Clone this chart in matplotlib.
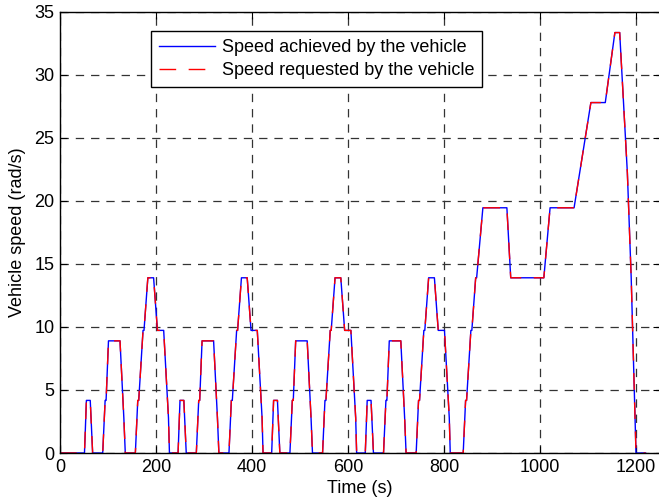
import numpy as np
import matplotlib
matplotlib.use('Agg')
import matplotlib.pyplot as plt

# NEDC breakpoints: urban cycle (ECE-15), time from cycle start (s) and speed
ece_t = [0, 11, 15, 23, 28, 49, 54, 56, 61, 85, 93, 96, 117, 122, 124, 133,
         135, 143, 155, 163, 176, 186, 188, 195]
ece_v = [0, 0, 4.17, 4.17, 0, 0, 4.17, 4.17, 8.89, 8.89, 2.78, 0, 0, 4.17,
         4.17, 9.72, 9.72, 13.89, 13.89, 9.72, 9.72, 2.78, 0, 0]
ece_starts = [40, 235, 430, 625]

# extra-urban part (EUDC)
eudc_start = 820
eudc_t = [0, 20, 25, 27, 36, 38, 46, 48, 61, 111, 119, 188, 201, 251, 286,
          316, 336, 346, 362, 370, 380, 400]
eudc_v = [0, 0, 4.17, 4.17, 9.72, 9.72, 13.89, 13.89, 19.44, 19.44, 13.89,
          13.89, 19.44, 19.44, 27.78, 27.78, 33.33, 33.33, 22.22, 13.89, 0, 0]

x_ticks = [0, 200, 400, 600, 800, 1000, 1200]
y_ticks = [0, 5, 10, 15, 20, 25, 30, 35]


def build_profile():
    t = [0]
    v = [0]
    for s in ece_starts:
        t += [s + x for x in ece_t]
        v += list(ece_v)
    t += [eudc_start + x for x in eudc_t]
    v += list(eudc_v)
    return np.array(t), np.array(v)


time, requested = build_profile()
achieved = requested.copy()

plt.rcParams['font.family'] = ['Liberation Sans', 'DejaVu Sans']
plt.rcParams['lines.scale_dashes'] = False

fig = plt.figure(figsize=(6.59, 5.01), dpi=100)
ax = fig.add_axes([60 / 659, 48 / 501, 600 / 659, 441.5 / 501])

ax.plot(time, achieved, color='#0000ff', lw=1.0,
        label='Speed achieved by the vehicle')
ax.plot(time, requested, color='#ff0000', lw=1.0, linestyle=(0, (12, 9)),
        label='Speed requested by the vehicle')

ax.set_xlim(0, 1250)
ax.set_ylim(0, 35)
ax.set_xticks(x_ticks)
ax.set_yticks(y_ticks)
ax.tick_params(direction='in', length=5, width=0.8, labelsize=13,
               top=True, right=True, pad=4)
ax.grid(True, color='#333333', linestyle=(0, (6, 5)), lw=0.9)
for sp in ax.spines.values():
    sp.set_linewidth(1.0)

ax.set_xlabel('Time (s)', fontsize=13, labelpad=3)
ax.set_ylabel('Vehicle speed (rad/s)', fontsize=13, labelpad=6)

leg = ax.legend(loc='upper left', bbox_to_anchor=(0.152, 0.956),
                borderaxespad=0, fontsize=13, fancybox=False,
                edgecolor='black', framealpha=1, handlelength=3.1,
                handletextpad=0.35, borderpad=0.45, labelspacing=0.35)
leg.get_frame().set_linewidth(1.0)

fig.savefig('out.png', dpi=100)
